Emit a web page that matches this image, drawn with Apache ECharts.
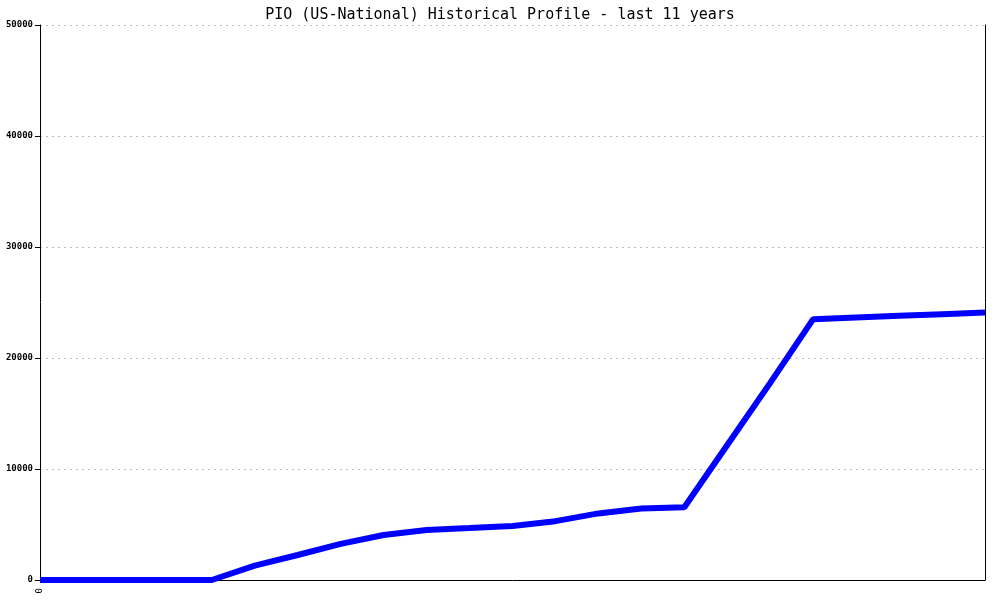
<!DOCTYPE html>
<html>
<head>
<meta charset="utf-8">
<script src="https://cdn.jsdelivr.net/npm/echarts@6/dist/echarts.min.js"></script>
<style>html,body{margin:0;padding:0;background:#fff}#c{width:1000px;height:600px}</style>
</head>
<body>
<div id="c"></div>
<script>
var titleText = "PIO (US-National) Historical Profile - last 11 years";
var categories = ["0","1","2","3","4","5","6","7","8","9","10","11","12","13","14","15","16","17","18","19","20","21","22"];
var values = [0,0,0,0,0,1300,2250,3250,4050,4500,4680,4870,5300,6000,6450,6550,12160,17760,23500,23650,23800,23950,24100];
var yMin = 0, yMax = 50000, yStep = 10000;

var chart = echarts.init(document.getElementById('c'), null, {renderer:'canvas'});
chart.setOption({
  animation:false,
  backgroundColor:'#fff',
  title:{text:titleText,left:'center',top:3,textStyle:{fontFamily:'DejaVu Sans Mono',fontSize:15,fontWeight:'normal',color:'#000'}},
  grid:{left:40,right:15,top:25,bottom:20,containLabel:false},
  xAxis:{type:'category',data:categories,boundaryGap:false,
    axisLine:{lineStyle:{color:'#000',width:1}},
    axisTick:{show:false},
    axisLabel:{rotate:90,interval:0,formatter:function(v,i){return i===0?v:'';},fontFamily:'DejaVu Sans Mono',fontSize:9,color:'#000',margin:8},
    splitLine:{show:false}},
  yAxis:[{type:'value',min:yMin,max:yMax,interval:yStep,
    axisLine:{show:true,lineStyle:{color:'#000',width:1}},
    axisTick:{show:true,inside:false,length:5,lineStyle:{color:'#000',width:1}},
    axisLabel:{formatter:function(v){return String(v);},fontFamily:'DejaVu Sans Mono',fontSize:9,fontWeight:'bold',color:'#000',margin:7},
    splitLine:{show:true,lineStyle:{color:'#bbb',type:[2,4],width:1}}},
    {type:'value',min:yMin,max:yMax,interval:yStep,position:'right',
    axisLine:{show:true,lineStyle:{color:'#000',width:1}},
    axisTick:{show:false},axisLabel:{show:false},splitLine:{show:false}}],
  series:[{type:'line',data:values,showSymbol:false,symbol:'none',
    lineStyle:{color:'#0000ff',width:6},itemStyle:{color:'#0000ff'}}]
});
</script>
</body>
</html>
